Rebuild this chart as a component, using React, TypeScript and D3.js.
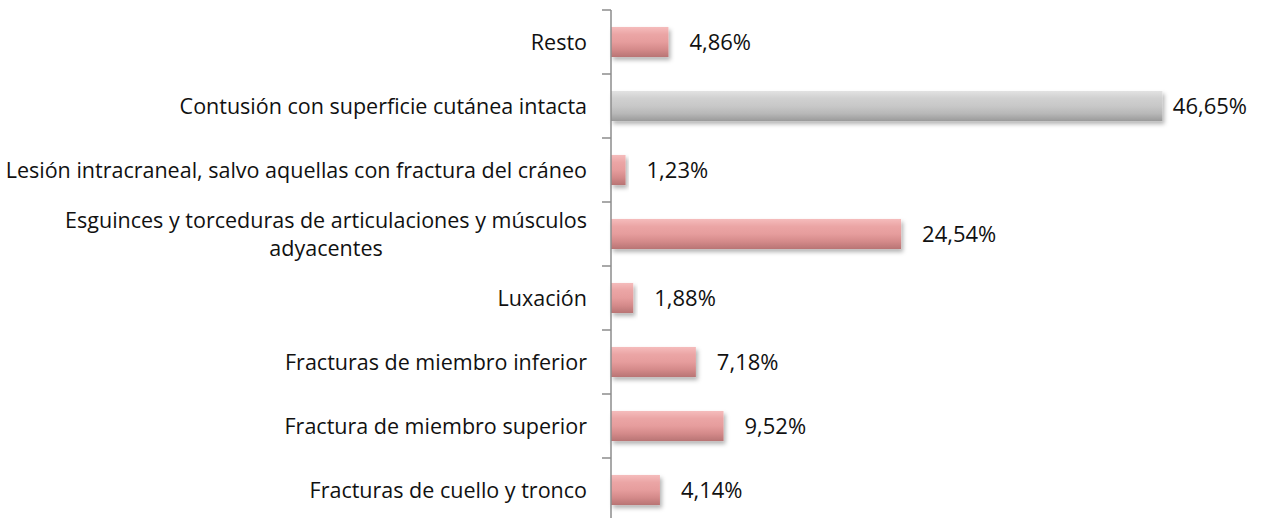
import { useEffect, useRef } from 'react';
import * as d3 from 'd3';

const categories = [
  'Resto',
  'Contusión con superficie cutánea intacta',
  'Lesión intracraneal, salvo aquellas con fractura del cráneo',
  'Esguinces y torceduras de articulaciones y músculos adyacentes',
  'Luxación',
  'Fracturas de miembro inferior',
  'Fractura de miembro superior',
  'Fracturas de cuello y tronco',
];
const values = [4.86, 46.65, 1.23, 24.54, 1.88, 7.18, 9.52, 4.14];
const highlight = 'Contusión con superficie cutánea intacta';

const fmt = (v: number) => v.toFixed(2).replace('.', ',') + '%';

export default function App() {
  const svgRef = useRef<SVGSVGElement>(null);

  useEffect(() => {
    const width = 1263;
    const height = 518;
    const svg = d3.select(svgRef.current);
    svg.selectAll('*').remove();
    svg.attr('width', width).attr('height', height);

    const font = '"Open Sans", sans-serif';
    const catSize = 21.5;
    const valSize = 22;

    const data = categories.map((c, i) => ({ name: c, value: values[i] }));

    const x = d3.scaleLinear().domain([0, 50]).range([611, 1202]);
    const y = d3
      .scaleBand()
      .domain(categories)
      .range([10, 522])
      .paddingInner(0.53)
      .paddingOuter(0.265);

    const defs = svg.append('defs');
    const grad = (id: string, stops: string[]) => {
      const g = defs
        .append('linearGradient')
        .attr('id', id)
        .attr('x1', 0)
        .attr('y1', 0)
        .attr('x2', 0)
        .attr('y2', 1);
      stops.forEach((c, i) =>
        g
          .append('stop')
          .attr('offset', `${(i / (stops.length - 1)) * 100}%`)
          .attr('stop-color', c)
      );
    };
    grad('pink', ['#f5bcbc', '#eba5a5', '#e69d9d', '#d48a8a', '#b87474']);
    grad('gray', ['#e2e2e2', '#d0d0d0', '#c8c8c8', '#b8b8b8', '#9a9a9a']);

    const filter = defs
      .append('filter')
      .attr('id', 'shadow')
      .attr('x', '-10%')
      .attr('y', '-20%')
      .attr('width', '130%')
      .attr('height', '160%');
    filter
      .append('feDropShadow')
      .attr('dx', 2)
      .attr('dy', 3)
      .attr('stdDeviation', 2)
      .attr('flood-color', '#000')
      .attr('flood-opacity', 0.3);

    // Bars
    svg
      .append('g')
      .selectAll('rect')
      .data(data)
      .enter()
      .append('rect')
      .attr('x', x(0))
      .attr('y', (d) => y(d.name)!)
      .attr('width', (d) => x(d.value) - x(0))
      .attr('height', y.bandwidth())
      .attr('fill', (d) => (d.name === highlight ? 'url(#gray)' : 'url(#pink)'))
      .attr('filter', 'url(#shadow)');

    // Value labels, kept inside the chart's right edge
    const rightEdge = 1247;
    svg
      .append('g')
      .selectAll('text')
      .data(data)
      .enter()
      .append('text')
      .attr('y', (d) => y(d.name)! + y.bandwidth() / 2)
      .attr('dy', '0.35em')
      .attr('fill', '#111')
      .style('font-family', font)
      .style('font-size', `${valSize}px`)
      .text((d) => fmt(d.value))
      .each(function (d) {
        const w = (this as SVGTextElement).getComputedTextLength();
        d3.select(this).attr('x', Math.min(x(d.value) + 21, rightEdge - w));
      });

    // Axis line and ticks at band boundaries
    const axis = svg.append('g');
    const top = y.range()[0];
    const bottom = y.range()[1];
    axis
      .append('line')
      .attr('x1', x(0))
      .attr('x2', x(0))
      .attr('y1', top)
      .attr('y2', bottom)
      .attr('stroke', '#8c8c8c')
      .attr('stroke-width', 1.5);
    d3.range(categories.length + 1).forEach((i) => {
      const ty = top + i * y.step();
      axis
        .append('line')
        .attr('x1', x(0) - 9)
        .attr('x2', x(0))
        .attr('y1', ty)
        .attr('y2', ty)
        .attr('stroke', '#8c8c8c')
        .attr('stroke-width', 1.5);
    });

    // Category labels: wrapped, centred as a block, block right-aligned
    const maxW = 590;
    const labelRight = 587;
    const labels = svg
      .append('g')
      .selectAll('text')
      .data(data)
      .enter()
      .append('text')
      .attr('text-anchor', 'middle')
      .attr('fill', '#111')
      .style('font-family', font)
      .style('font-size', `${catSize}px`);

    labels.each(function (d) {
      const text = d3.select(this);
      const words = d.name.split(' ');
      const lines: string[] = [];
      let line: string[] = [];
      const probe = text.append('tspan');
      const measure = (s: string) => {
        probe.text(s);
        return (probe.node() as SVGTSpanElement).getComputedTextLength();
      };
      words.forEach((w) => {
        if (measure([...line, w].join(' ')) > maxW && line.length) {
          lines.push(line.join(' '));
          line = [w];
        } else {
          line.push(w);
        }
      });
      lines.push(line.join(' '));
      const blockW = d3.max(lines, (l) => measure(l))!;
      probe.remove();
      const lh = 28;
      const cx = labelRight - blockW / 2;
      const cy = y(d.name)! + y.bandwidth() / 2 - ((lines.length - 1) * lh) / 2;
      lines.forEach((l, i) => {
        text
          .append('tspan')
          .attr('x', cx)
          .attr('y', cy + i * lh)
          .attr('dy', '0.35em')
          .text(l);
      });
    });
  }, []);

  return (
    <div style={{ position: 'absolute', left: 0, top: 0, background: '#fff' }}>
      <svg ref={svgRef} style={{ display: 'block' }}></svg>
    </div>
  );
}
